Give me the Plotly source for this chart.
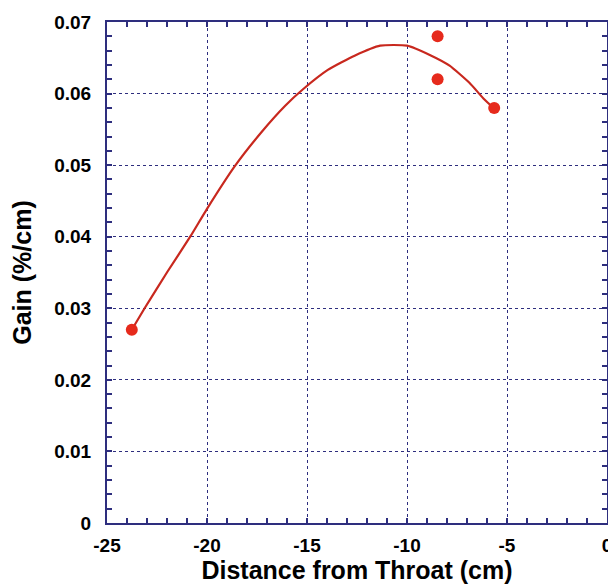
import plotly.graph_objects as go

# Measured data points
pt_x = [-23.76, -8.47, -8.47, -5.64]
pt_y = [0.027, 0.068, 0.062, 0.058]

# Fitted curve
curve_x = [-23.76, -23.12, -21.98, -20.84, -20.0, -18.6, -17.28, -16.09, -15.2,
           -13.96, -12.62, -11.34, -10.0, -8.86, -7.87, -6.88, -6.14, -5.64]
curve_y = [0.0270, 0.0300, 0.0351, 0.0400, 0.0439, 0.0499, 0.0546, 0.0583, 0.0606,
           0.0633, 0.0653, 0.0667, 0.0667, 0.0654, 0.0639, 0.0615, 0.0592, 0.0579]

x_ticks = [-25, -20, -15, -10, -5, 0]
y_ticks = [0, 0.01, 0.02, 0.03, 0.04, 0.05, 0.06, 0.07]
y_labels = ["0", "0.01", "0.02", "0.03", "0.04", "0.05", "0.06", "0.07"]

navy = "#2e2e7e"
font_fam = "Liberation Sans, Arial, sans-serif"

fig = go.Figure()
fig.add_trace(go.Scatter(x=curve_x, y=curve_y, mode="lines",
                         line=dict(color="#c8281e", width=2.2, shape="spline", smoothing=0.5),
                         showlegend=False, hoverinfo="skip"))
fig.add_trace(go.Scatter(x=pt_x, y=pt_y, mode="markers",
                         marker=dict(color="#e62a1c", size=12, line=dict(width=0)),
                         showlegend=False))

axis_common = dict(
    showline=True, linecolor=navy, linewidth=2, mirror="allticks",
    ticks="inside", ticklen=5, tickwidth=1.5, tickcolor=navy,
    showgrid=True, gridcolor=navy, griddash="dot", gridwidth=1,
    zeroline=False,
    tickfont=dict(family=font_fam, size=19, color="black", weight="bold"),
)

fig.update_xaxes(range=[-25, 0], tickvals=x_ticks, ticktext=[str(v) for v in x_ticks],
                 ticklabelstandoff=4,
                 minor=dict(dtick=1, ticks="inside", ticklen=5, tickcolor=navy, tickwidth=1.5, showgrid=False),
                 title=dict(text="Distance from Throat (cm)", standoff=2,
                            font=dict(family=font_fam, size=25, color="black", weight="bold")),
                 **axis_common)
fig.update_yaxes(range=[0, 0.07], tickvals=y_ticks, ticktext=y_labels,
                 ticklabelstandoff=10,
                 minor=dict(dtick=0.002, ticks="inside", ticklen=5, tickcolor=navy, tickwidth=1.5, showgrid=False),
                 title=dict(text="Gain (%/cm)", standoff=16,
                            font=dict(family=font_fam, size=25, color="black", weight="bold")),
                 **axis_common)

fig.update_layout(width=608, height=577,
                  margin=dict(l=99, r=4, t=11, b=62, pad=0),
                  plot_bgcolor="white", paper_bgcolor="white")

fig.write_html("out.html")
